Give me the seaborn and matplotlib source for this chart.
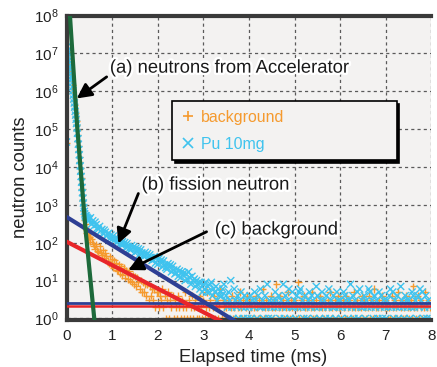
import numpy as np
import pandas as pd
import matplotlib
matplotlib.use("Agg")
import matplotlib.pyplot as plt
import matplotlib.patheffects as pe
from matplotlib.ticker import FixedLocator, NullLocator
import seaborn as sns

# ---------------- data ----------------
series_names = ["background", "Pu 10mg"]

# time bins (ms): fine bins at the start, coarser afterwards
time_head = np.round(np.arange(50) * 0.01, 3)
time_tail = np.round(0.5 + np.arange(300) * 0.025, 4)

pu_head = [45700, 1.48e7, 1.2e7, 1.03e7, 8.1e6, 6.6e6, 5.5e6, 4.5e6, 3.7e6, 3.0e6,
           2.45e6, 2.04e6, 1.66e6, 1.29e6, 1.02e6, 7.9e5, 6.2e5, 4.9e5, 3.8e5, 2.95e5,
           2.34e5, 1.82e5, 1.41e5, 1.07e5, 7.8e4, 5.6e4, 4.0e4, 2.9e4, 2.1e4, 1.48e4,
           1.07e4, 7760, 5620, 3980, 2880, 2090, 1510, 1120, 851, 676,
           575, 513, 479, 513, 427, 468, 398, 437, 372, 407]
pu_mid = [420, 455, 310, 380, 275, 350, 300, 245, 228, 270, 205, 225, 176, 215, 190, 150, 168, 178, 128, 160,
          124, 150, 116, 136, 101, 128, 112, 95, 88, 106, 92, 101, 74, 95, 80, 70, 64, 84, 72, 78,
          55, 73, 60, 69, 49, 65, 54, 46, 43, 56, 47, 52, 37, 48, 41, 34, 36, 43, 29, 40,
          27, 38, 31, 35, 23, 33, 26, 22, 20, 28, 23, 26, 17, 24, 19, 15, 16, 20, 13, 18,
          12, 17, 14, 16, 10, 15, 11, 17, 12, 8, 13, 10, 11, 7, 10, 8, 9, 6, 9, 5,
          8, 6, 9, 5, 7, 5, 8, 9, 4, 6, 5, 7, 3, 6, 4, 5, 4, 6, 8, 3]
pu_base = [4, 2, 5, 3, 10, 2, 1, 6, 3, 2, 4, 1, 3, 5, 2, 1, 4, 2, 3, 1,
           2, 4, 1, 3, 2, 5, 3, 1, 4, 2, 6, 2, 3, 1, 4, 2, 8, 1, 3, 2,
           1, 3, 2, 5, 3, 2, 4, 1, 3, 2, 8, 1, 4, 2, 3, 6, 1, 2, 5, 2,
           3, 1, 4, 2, 5, 6, 2, 3, 1, 4, 2, 1, 3, 5, 2, 4, 3, 1, 2, 7,
           4, 2, 1, 3, 5, 2, 3, 1, 4, 2, 6, 1, 3, 2, 4, 2, 1, 5, 3, 2,
           3, 1, 2, 5, 4, 3, 2, 1, 3, 8, 2, 4, 1, 3, 2, 5, 1, 6, 2, 3,
           2, 4, 1, 3, 2, 6, 5, 2, 3, 1, 4, 2, 3, 1, 5, 2, 4, 1, 3, 2,
           1, 3, 2, 4, 6, 2, 5, 1, 3, 2, 4, 1, 2, 7, 3, 2, 1, 4, 3, 2,
           3, 1, 2, 5, 4, 2, 3, 1, 4, 2, 6, 3, 5, 1, 2, 4, 1, 3, 2, 1]

bg_head = [43600, 1.32e7, 1.07e7, 8.9e6, 7.2e6, 5.9e6, 4.9e6, 4.0e6, 3.3e6, 2.7e6,
           2.19e6, 1.82e6, 1.48e6, 1.15e6, 9.1e5, 7.1e5, 5.5e5, 4.4e5, 3.4e5, 2.63e5,
           2.09e5, 1.62e5, 1.26e5, 9.5e4, 6.9e4, 5.0e4, 3.55e4, 2.57e4, 1.86e4, 1.32e4,
           9550, 6920, 5010, 3550, 2570, 1860, 1350, 977, 708, 525,
           398, 309, 251, 214, 186, 166, 151, 162, 132, 145]
bg_mid = [140, 105, 122, 95, 84, 70, 92, 61, 58, 80, 54, 47, 63, 40, 55, 44, 33, 29, 44, 26,
          37, 22, 34, 30, 19, 18, 27, 15, 24, 14, 22, 12, 19, 16, 11, 18, 10, 9, 14, 8,
          13, 7, 12, 9, 6, 10, 5, 9, 5, 8, 4, 8, 3, 7, 4, 6, 3, 6, 2, 5,
          5, 2, 4, 3, 6, 2, 4, 1, 3, 5, 1, 3, 2, 4, 1, 3, 2, 1, 4, 2,
          1, 3, 2, 1, 5, 2, 1, 3, 1, 2, 4, 1, 2, 3, 1, 2, 1, 4, 2, 1,
          3, 1, 2, 5, 1, 2, 3, 1, 2, 4, 1, 2, 3, 1, 2, 6, 1, 3, 2, 1]
bg_base = [2, 1, 3, 1, 2, 4, 1, 2, 1, 3, 2, 1, 5, 2, 1, 3, 1, 2, 4, 1,
           1, 3, 2, 1, 2, 1, 4, 2, 1, 3, 1, 2, 6, 1, 2, 3, 1, 2, 1, 4,
           2, 1, 3, 2, 8, 1, 2, 4, 1, 2, 3, 1, 2, 1, 5, 2, 1, 3, 2, 1,
           3, 1, 2, 9, 1, 2, 3, 1, 4, 2, 1, 2, 3, 1, 2, 5, 1, 2, 1, 3,
           1, 2, 4, 1, 2, 3, 1, 2, 1, 3, 2, 5, 1, 2, 1, 3, 2, 1, 4, 2,
           2, 1, 3, 2, 1, 4, 1, 2, 3, 1, 2, 1, 5, 2, 1, 3, 2, 1, 2, 4,
           1, 3, 2, 1, 2, 4, 1, 3, 2, 1, 6, 2, 1, 2, 3, 1, 2, 4, 1, 2,
           3, 2, 1, 2, 1, 4, 2, 1, 3, 2, 1, 5, 1, 2, 3, 1, 2, 1, 4, 2,
           1, 2, 3, 1, 7, 2, 1, 2, 4, 1, 3, 2, 1, 2, 5, 1, 2, 3, 1, 2]

# fitted lines (time in ms, counts)
accel_fit_t = [0.06, 0.075, 0.231, 0.418, 0.62]
accel_fit_c = [1.95e8, 1.02e8, 1.29e5, 216, 0.71]
fission_fit_t = [0.0, 3.8]
fission_fit_c = [480, 0.71]
bg_fit_t = [0.0, 3.5]
bg_fit_c = [107, 0.72]
fission_const = 2.57
bg_const = 2.14

x_ticks = [0, 1, 2, 3, 4, 5, 6, 7, 8]
y_exponents = [0, 1, 2, 3, 4, 5, 6, 7, 8]

# ---------------- build table ----------------
time_all = np.concatenate([time_head, time_tail])
bg_all = bg_head + bg_mid + bg_base
pu_all = pu_head + pu_mid + pu_base
assert len(bg_all) == len(time_all) == len(pu_all)
df = pd.DataFrame({
    "time": np.concatenate([time_all, time_all]),
    "counts": np.array(bg_all + pu_all, dtype=float),
    "series": [series_names[0]] * len(time_all) + [series_names[1]] * len(time_all),
})

# ---------------- style ----------------
sns.set_theme(style="ticks")
plt.rcParams["font.family"] = ["Liberation Sans", "DejaVu Sans"]

orange = "#f59a2e"
cyan = "#3fc3ee"
palette = {series_names[0]: orange, series_names[1]: cyan}

fig = plt.figure(figsize=(4.37, 3.67), dpi=100)
ax = fig.add_axes([0.1522, 0.1275, 0.8352, 0.8302])
ax.set_facecolor("#f3f2f1")

sns.scatterplot(data=df, x="time", y="counts", hue="series", style="series",
                palette=palette, markers={series_names[0]: "+", series_names[1]: "x"},
                s=26, linewidth=1.0, ax=ax, zorder=1)

ax.set_yscale("log")
ax.set_xlim(0, 8)
ax.set_ylim(0.9, 1e8)

# lines
sns.lineplot(x=[0, 8], y=[fission_const, fission_const], color="#2e3f94", lw=2.0, ax=ax, zorder=3)
sns.lineplot(x=[0, 8], y=[bg_const, bg_const], color="#e8262a", lw=1.8, ax=ax, zorder=3)
sns.lineplot(x=bg_fit_t, y=bg_fit_c, color="#e8262a", lw=3.0, ax=ax, zorder=4)
sns.lineplot(x=fission_fit_t, y=fission_fit_c, color="#2e3f94", lw=3.0, ax=ax, zorder=4)
sns.lineplot(x=accel_fit_t, y=accel_fit_c, color="#1d6a3b", lw=3.0, ax=ax, zorder=4, sort=False)

# axes cosmetics
ax.xaxis.set_major_locator(FixedLocator(x_ticks))
ax.set_xticklabels([str(v) for v in x_ticks])
ax.yaxis.set_major_locator(FixedLocator([10.0 ** e for e in y_exponents]))
ax.yaxis.set_minor_locator(NullLocator())
ax.set_yticklabels([r"$\mathregular{10^{%d}}$" % e for e in y_exponents])
ax.tick_params(length=0, pad=6, labelsize=11, colors="#222222")
ax.grid(True, which="major", color="#5a5a5a", linestyle=(0, (2.5, 2.5)), linewidth=0.9)
ax.set_axisbelow(True)
for sp in ax.spines.values():
    sp.set_linewidth(3.0)
    sp.set_color("#3a3a3a")
ax.spines["right"].set_visible(False)

ax.set_xlabel("Elapsed time (ms)", fontsize=13.2, color="#222222")
ax.xaxis.set_label_coords(0.51, -0.121)
ax.xaxis.label.set_va("center")
ax.set_ylabel("neutron counts", fontsize=13.2, color="#222222")
ax.yaxis.set_label_coords(-0.125, 0.47)
ax.yaxis.label.set_va("center")

# legend
handles, labels = ax.get_legend_handles_labels()
leg = ax.legend(handles, labels, loc="upper left",
                bbox_to_anchor=(0.2886, 0.532, 0.6156, 0.187), mode="expand",
                borderaxespad=0, fontsize=11.4, frameon=True, fancybox=False,
                edgecolor="black", facecolor="#f3f2f1", framealpha=1,
                shadow={"color": "black", "alpha": 1},
                handlelength=1.0, handletextpad=0.3, borderpad=0.55, labelspacing=0.75)
leg.get_frame().set_linewidth(1.2)
for txt, lab in zip(leg.get_texts(), labels):
    txt.set_color(palette.get(lab, "black"))
for h in leg.legend_handles:
    try:
        h.set_markersize(7)
        h.set_markeredgewidth(1.2)
    except AttributeError:
        pass

# annotations
halo = [pe.withStroke(linewidth=3.5, foreground="white")]
arrow_kw = dict(arrowstyle="-|>,head_length=0.55,head_width=0.28", color="black",
                lw=2.0, shrinkA=0, shrinkB=0, mutation_scale=16)
ax.annotate("", xy=(0.225, 10 ** 5.81), xytext=(0.88, 10 ** 6.38), arrowprops=arrow_kw, zorder=6)
ax.annotate("", xy=(1.135, 10 ** 1.98), xytext=(1.575, 10 ** 3.30), arrowprops=arrow_kw, zorder=6)
ax.annotate("", xy=(1.355, 10 ** 1.28), xytext=(3.07, 10 ** 2.29), arrowprops=arrow_kw, zorder=6)
ax.text(0.95, 10 ** 6.61, "(a) neutrons from Accelerator", fontsize=13.3, ha="left",
        va="center", color="#1a1a1a", path_effects=halo, zorder=7)
ax.text(1.645, 10 ** 3.52, "(b) fission neutron", fontsize=13.3, ha="left",
        va="center", color="#1a1a1a", path_effects=halo, zorder=7)
ax.text(3.25, 10 ** 2.335, "(c) background", fontsize=13.3, ha="left",
        va="center", color="#1a1a1a", path_effects=halo, zorder=7)

fig.savefig("out.png", dpi=100)
